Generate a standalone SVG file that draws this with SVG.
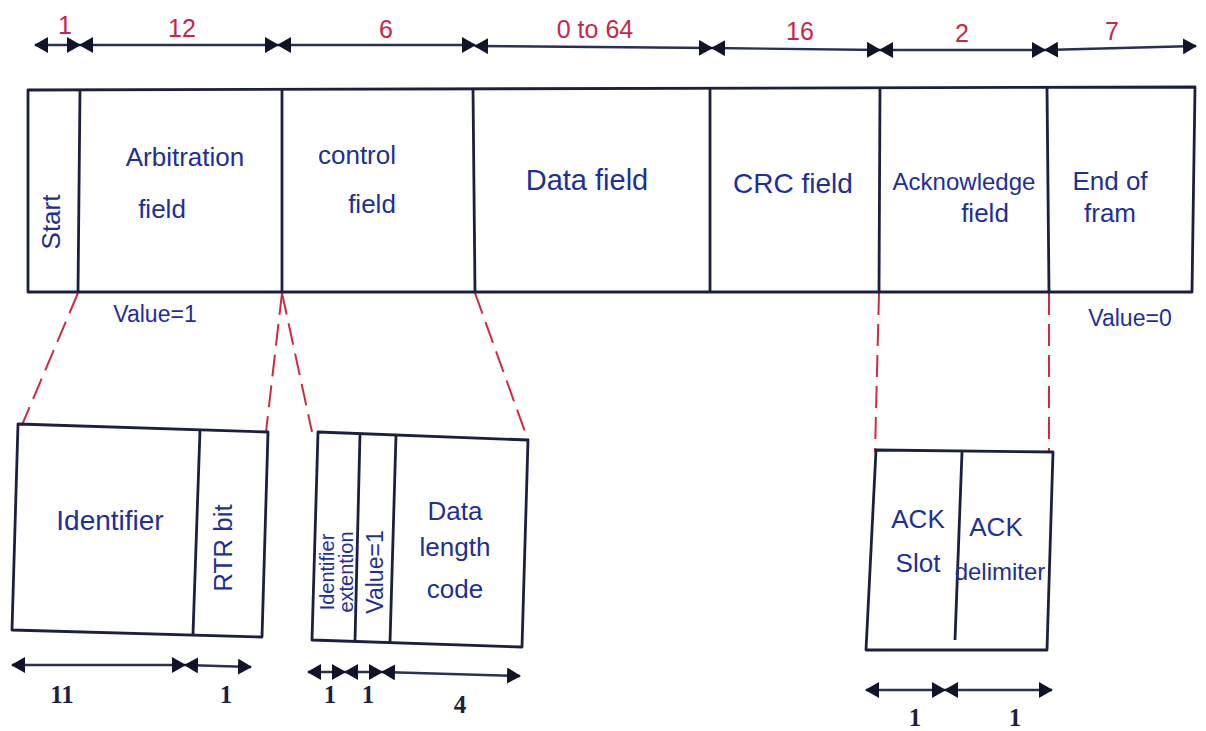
<svg xmlns="http://www.w3.org/2000/svg" width="1206" height="731" viewBox="0 0 1206 731">
<style>
.box{fill:none;stroke:#1c2040;stroke-width:2.8;stroke-linejoin:round}
.dim{stroke:#2a2f55;stroke-width:2.4;fill:none;marker-start:url(#ah);marker-end:url(#ah)}
.red{stroke:#cc2a45;stroke-width:2;fill:none;stroke-dasharray:22 9}
.t{font-family:"Liberation Sans",Arial,sans-serif;fill:#1e2f96;font-size:26px;text-anchor:middle}
.n{font-family:"Liberation Sans",Arial,sans-serif;fill:#c9254a;font-size:25px;text-anchor:middle}
.k{font-family:"Liberation Serif",serif;fill:#1c2040;font-size:25px;text-anchor:middle;font-weight:bold}
</style>
<defs>
<marker id="ah" viewBox="0 0 14 16" refX="13" refY="8" markerWidth="14" markerHeight="16" markerUnits="userSpaceOnUse" orient="auto-start-reverse">
<path d="M0,0 L14,8 L0,16 Z" fill="#111428"/>
</marker>
</defs>

<g id="connectors">
<line class="dim" x1="35" y1="45" x2="80" y2="45"/>
<line class="dim" x1="80" y1="45" x2="278" y2="45"/>
<line class="dim" x1="278" y1="45" x2="475" y2="45"/>
<line class="dim" x1="475" y1="46" x2="712" y2="48"/>
<line class="dim" x1="712" y1="48" x2="880" y2="50"/>
<line class="dim" x1="880" y1="50" x2="1045" y2="50"/>
<line class="dim" x1="1045" y1="50" x2="1196" y2="46"/>
<line class="red" x1="78" y1="293" x2="22" y2="425"/>
<line class="red" x1="282" y1="293" x2="266" y2="432"/>
<line class="red" x1="282" y1="293" x2="312" y2="432"/>
<line class="red" x1="475" y1="293" x2="528" y2="440"/>
<line class="red" x1="879" y1="293" x2="875" y2="452"/>
<line class="red" x1="1049" y1="293" x2="1049" y2="452"/>
<line class="dim" x1="12" y1="665" x2="185" y2="665"/>
<line class="dim" x1="185" y1="665" x2="251" y2="667"/>
<line class="dim" x1="308" y1="672" x2="345" y2="672"/>
<line class="dim" x1="345" y1="672" x2="382" y2="672"/>
<line class="dim" x1="382" y1="672" x2="520" y2="676"/>
<line class="dim" x1="866" y1="690" x2="945" y2="690"/>
<line class="dim" x1="945" y1="690" x2="1052" y2="690"/>
</g>

<g id="labels-top">
<text class="n" x="65" y="34">1</text>
<text class="n" x="182" y="37">12</text>
<text class="n" x="386" y="38">6</text>
<text class="n" x="595" y="38">0 to 64</text>
<text class="n" x="800" y="40">16</text>
<text class="n" x="962" y="42">2</text>
<text class="n" x="1112" y="40">7</text>
</g>

<g id="frame">
<path class="box" d="M28,90 L1195,87 L1192,292 L28,292 Z"/>
<line class="box" x1="80" y1="90" x2="78" y2="292"/>
<line class="box" x1="282" y1="90" x2="282" y2="292"/>
<line class="box" x1="473" y1="88" x2="475" y2="292"/>
<line class="box" x1="710" y1="88" x2="710" y2="292"/>
<line class="box" x1="880" y1="88" x2="879" y2="292"/>
<line class="box" x1="1047" y1="87" x2="1049" y2="292"/>
</g>
<g id="start"><text class="t" transform="translate(60,222) rotate(-90)">Start</text></g>
<g id="arbitration"><text class="t" x="185" y="166">Arbitration</text><text class="t" x="162" y="218">field</text></g>
<g id="control"><text class="t" x="357" y="164">control</text><text class="t" x="372" y="213">field</text></g>
<g id="data"><text class="t" x="587" y="190" style="font-size:29px">Data field</text></g>
<g id="crc"><text class="t" x="793" y="193" style="font-size:28px">CRC field</text></g>
<g id="ack"><text class="t" x="964" y="190" style="font-size:24px">Acknowledge</text><text class="t" x="985" y="222">field</text></g>
<g id="eof"><text class="t" x="1110" y="190">End of</text><text class="t" x="1110" y="222">fram</text></g>
<text class="t" x="155" y="322" style="font-size:23px">Value=1</text>
<text class="t" x="1130" y="326" style="font-size:23px">Value=0</text>

<g id="arb-detail">
<path class="box" d="M18,424 L268,432 L262,637 L12,630 Z"/>
<line class="box" x1="200" y1="430" x2="193" y2="634"/>
<text class="t" x="110" y="530" style="font-size:28px">Identifier</text>
<text class="t" transform="translate(232,548) rotate(-90)">RTR bit</text>
<text class="k" x="62" y="703">11</text>
<text class="k" x="226" y="703">1</text>
</g>

<g id="ctrl-detail">
<path class="box" d="M318,432 L528,440 L522,647 L312,640 Z"/>
<line class="box" x1="360" y1="434" x2="355" y2="641"/>
<line class="box" x1="396" y1="435" x2="390" y2="643"/>
<text class="t" style="font-size:20px" transform="translate(334,572) rotate(-90)">Identifier</text>
<text class="t" style="font-size:20px" transform="translate(353,572) rotate(-90)">extention</text>
<text class="t" style="font-size:23px" transform="translate(383,572) rotate(-90)">Value=1</text>
<text class="t" x="455" y="520">Data</text>
<text class="t" x="455" y="556">length</text>
<text class="t" x="455" y="598">code</text>
<text class="k" x="330" y="703">1</text>
<text class="k" x="368" y="703">1</text>
<text class="k" x="460" y="713">4</text>
</g>

<g id="ack-detail">
<path class="box" d="M876,450 L1053,452 L1047,650 L866,650 Z"/>
<line class="box" x1="962" y1="452" x2="955" y2="640"/>
<text class="t" x="918" y="528">ACK</text>
<text class="t" x="918" y="572">Slot</text>
<text class="t" x="996" y="536">ACK</text>
<text class="t" x="1000" y="580" style="font-size:24px">delimiter</text>
<text class="k" x="915" y="726">1</text>
<text class="k" x="1015" y="726">1</text>
</g>
</svg>
